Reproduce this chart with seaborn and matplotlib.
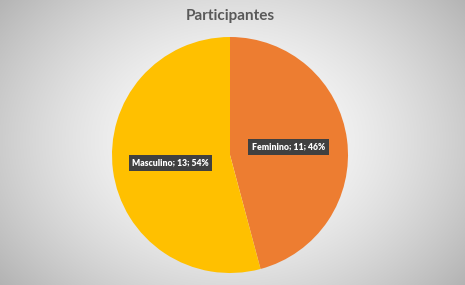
import numpy as np
import matplotlib
matplotlib.use("Agg")
import matplotlib.pyplot as plt
import seaborn as sns

categories = ["Feminino", "Masculino"]
values = [11, 13]
percents = ["46%", "54%"]
title = "Participantes"

sns.set_theme(style="white")
plt.rcParams['font.family'] = ['Lato', 'DejaVu Sans']

colors = ["#ED7D31", "#FFC000"]

W, H = 465, 285
fig = plt.figure(figsize=(W / 100, H / 100), dpi=100)

# radial gradient background
bg = fig.add_axes([0, 0, 1, 1])
yy, xx = np.mgrid[0:H, 0:W]
cx, cy = 232, 140
r = np.sqrt(((xx - cx) / 300.0) ** 2 + ((yy - cy) / 230.0) ** 2)
val = np.clip(1.0 - 0.30 * r ** 1.6, 0, 1)
img = np.dstack([val, val, val])
bg.imshow(img, aspect="auto", extent=[0, 1, 0, 1], origin="upper")
bg.set_axis_off()

# pie axes
R = 118
pcx, pcy = 230, 155
ax = fig.add_axes([(pcx - R) / W, (H - pcy - R) / H, 2 * R / W, 2 * R / H])
wedges = ax.pie(values, colors=colors, startangle=90, counterclock=False,
                radius=1.0, labels=None,
                wedgeprops=dict(linewidth=0))[0]
ax.set_xlim(-1, 1)
ax.set_ylim(-1, 1)
ax.set_axis_off()

label_r = [0.5, 0.51]
for w, cat, v, p, lr in zip(wedges, categories, values, percents, label_r):
    ang = np.deg2rad((w.theta1 + w.theta2) / 2)
    x, y = lr * np.cos(ang), lr * np.sin(ang)
    ax.text(x, y, f"{cat}; {v}; {p}", ha="center", va="center", color="white",
            fontsize=6.2, fontweight="heavy",
            bbox=dict(boxstyle="square,pad=0.4", facecolor="#404040", edgecolor="none"))

fig.text(230 / W, 1 - 16 / H, title, ha="center", va="center", fontsize=11,
         fontweight="bold", color="#595959")

fig.savefig("out.png", dpi=100)
